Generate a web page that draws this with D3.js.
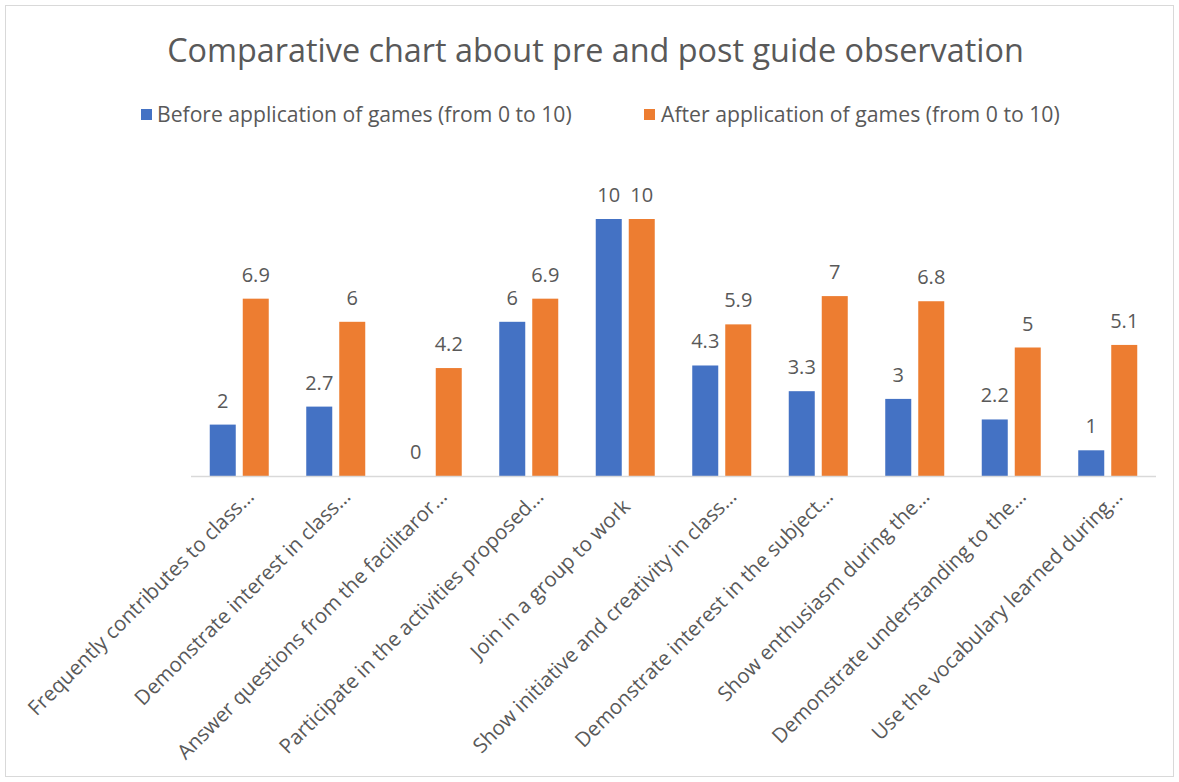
<!DOCTYPE html>
<html><head><meta charset="utf-8">
<script src="https://cdn.jsdelivr.net/npm/d3@7"></script>
<style>body{margin:0;background:#fff}svg{display:block}text{font-family:"Open Sans",sans-serif;fill:#595959}</style>
</head><body><svg id="c" width="1179" height="782"></svg>
<script>
const categories = ["Frequently contributes to class…","Demonstrate interest in class…","Answer questions from the facilitaror…","Participate in the activities proposed…","Join in a group to work","Show initiative and creativity in class…","Demonstrate interest in the subject…","Show enthusiasm during the…","Demonstrate understanding to the…","Use the vocabulary learned during…"];
const before = [2,2.7,0,6,10,4.3,3.3,3,2.2,1];
const after = [6.9,6,4.2,6.9,10,5.9,7,6.8,5,5.1];
const seriesNames = ["Before application of games (from 0 to 10)","After application of games (from 0 to 10)"];
const colors = ["#4472C4","#ED7D31"];
const title = "Comparative chart about pre and post guide observation";

const svg = d3.select("#c");
svg.append("rect").attr("x",5.5).attr("y",5.5).attr("width",1168).attr("height",771).attr("fill","#fff").attr("stroke","#d9d9d9");

function fitText(sel, w){ const l = sel.node().getComputedTextLength(); const fs = parseFloat(sel.attr("font-size")); sel.attr("font-size", fs*w/l); }

const t = svg.append("text").attr("x",595.5).attr("y",62).attr("text-anchor","middle").attr("font-size",28).text(title);
fitText(t, 857);

const x0 = d3.scaleBand().domain(d3.range(categories.length)).range([191,1156]).paddingInner(0.4).paddingOuter(0.2);
const y = d3.scaleLinear().domain([0,10]).range([476,219]);
const bw = 26, gap = 7;

const data = [before, after];
const leg = [{sx:141, tx:157, w:415},{sx:644, tx:661, w:399}];
seriesNames.forEach((n,i)=>{
  svg.append("rect").attr("x",leg[i].sx).attr("y",109).attr("width",11).attr("height",11).attr("fill",colors[i]);
  const lt = svg.append("text").attr("x",leg[i].tx).attr("y",122).attr("font-size",19).text(n);
  fitText(lt, leg[i].w);
});

const cx = i => x0(i) + x0.bandwidth()/2;
data.forEach((vals,s)=>{
  const xo = s===0 ? -gap/2 - bw : gap/2;
  svg.append("g").selectAll("rect").data(vals).join("rect")
    .attr("x",(d,i)=>cx(i)+xo).attr("width",bw)
    .attr("y",d=>y(d)).attr("height",d=>y(0)-y(d)).attr("fill",colors[s]);
  svg.append("g").selectAll("text").data(vals).join("text")
    .attr("x",(d,i)=>cx(i)+xo+bw/2).attr("y",d=>y(d)-17)
    .attr("text-anchor","middle").attr("font-size",20).text(d=>d);
});

svg.append("line").attr("x1",191).attr("x2",1156).attr("y1",476.5).attr("y2",476.5).attr("stroke","#d9d9d9").attr("stroke-width",1.5);

svg.append("g").selectAll("text").data(categories).join("text")
  .attr("transform",(d,i)=>`translate(${cx(i)+16},498) rotate(-45)`)
  .attr("dx",d=>d.endsWith("…")?0:-14)
  .attr("text-anchor","end").attr("font-size",20.5).text(d=>d);
</script></body></html>
